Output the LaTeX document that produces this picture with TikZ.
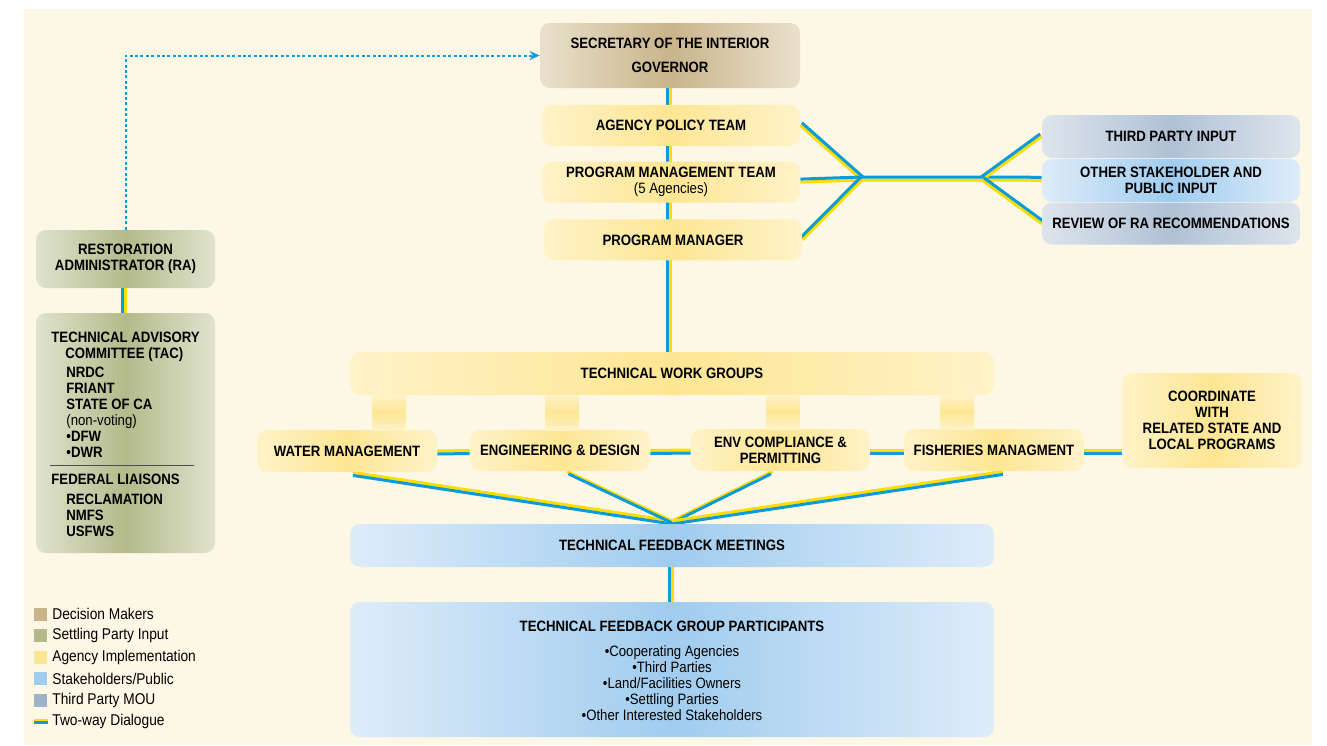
\documentclass[tikz,border=0pt]{standalone}
\usepackage{fontspec}
\setmainfont{Liberation Sans}[FakeStretch=0.88]
\usetikzlibrary{positioning,arrows.meta}
\definecolor{panel}{HTML}{FDF7E6}
\definecolor{tanL}{HTML}{E9E0CC}
\definecolor{tanM}{HTML}{C9B48B}
\definecolor{yelL}{HTML}{FEF2C8}
\definecolor{yelM}{HTML}{FDE693}
\definecolor{grnL}{HTML}{E0E3CE}
\definecolor{grnM}{HTML}{B3BA8A}
\definecolor{bluL}{HTML}{DEECF9}
\definecolor{bluM}{HTML}{A0CCEE}
\definecolor{mouL}{HTML}{DDE4EC}
\definecolor{mouM}{HTML}{B0C1D5}
\definecolor{mouK}{HTML}{9EB2C9}
\definecolor{twoblu}{HTML}{0B9BD8}
\definecolor{twoyel}{HTML}{FFDD00}
\newcommand\chartfont{\fontsize{7.5}{8}\selectfont}
\pgfdeclarelayer{back}
\pgfdeclarelayer{wires}
\pgfsetlayers{back,wires,main}

\begin{document}
\begin{tikzpicture}[x=0.5pt, y=-0.5pt,
    txt/.style={inner sep=0pt, font=\chartfont\bfseries},
    box/.style={txt, rounded corners=5pt, align=center},
    decision/.style={box, left color=tanL, right color=tanL, middle color=tanM},
    agency/.style={box, left color=yelL, right color=yelL, middle color=yelM},
    settling/.style={box, left color=grnL, right color=grnL, middle color=grnM},
    public/.style={box, left color=bluL, right color=bluL, middle color=bluM},
    mou/.style={box, left color=mouL, right color=mouL, middle color=mouM},
    stub/.style={top color=yelL, bottom color=yelL, middle color=yelM},
    twoway/.style={draw=twoyel, line width=1.5pt,
      postaction={draw=twoblu, line width=1.5pt, transform canvas={shift={(#1)}}}},
    legend/.style={inner sep=0pt, font=\fontsize{7.8}{8}\selectfont, anchor=west}
  ]
  \useasboundingbox (0,0) rectangle (1327,745);
  \begin{pgfonlayer}{back}
    \fill[panel] (24,9) rectangle (1312,745);
  \end{pgfonlayer}

  % decision makers and agencies
  \node[decision, minimum width=130pt, minimum height=32.5pt] (sec) at (670,55.5)
    {SECRETARY OF THE INTERIOR\\[4pt] GOVERNOR};
  \node[agency, minimum width=129pt, minimum height=20.5pt, below=8pt of sec, xshift=0.5pt] (apt)
    {AGENCY POLICY TEAM};
  \node[agency, minimum width=129pt, minimum height=20.5pt, below=7.5pt of apt] (pmt)
    {PROGRAM MANAGEMENT TEAM\\ {\mdseries(5 Agencies)}};
  \node[agency, minimum width=129pt, minimum height=20.5pt, below=8pt of pmt, xshift=1pt] (pm)
    {PROGRAM MANAGER};

  % third parties and public
  \node[mou, minimum width=129pt, minimum height=21.5pt] (third) at (1171,136.5)
    {THIRD PARTY INPUT};
  \node[public, minimum width=129pt, minimum height=21.5pt, below=0pt of third] (other)
    {OTHER STAKEHOLDER AND\\ PUBLIC INPUT};
  \node[mou, minimum width=129pt, minimum height=21pt, below=0pt of other] (review)
    {REVIEW OF RA RECOMMENDATIONS};

  % settling parties
  \node[settling, minimum width=89.5pt, minimum height=29pt] (ra) at (125.5,259)
    {RESTORATION\\ ADMINISTRATOR (RA)};
  \node[settling, minimum width=89.5pt, minimum height=120pt] (tac) at (125.5,433) {};
  \node[txt, anchor=north west, align=left] (tacmembers) at (51,332)
    {TECHNICAL ADVISORY\\
     \hspace*{7pt}COMMITTEE (TAC)\\[1.5pt]
     \hspace*{7.5pt}NRDC\\
     \hspace*{7.5pt}FRIANT\\
     \hspace*{7.5pt}STATE OF CA\\
     \hspace*{7.5pt}{\mdseries(non-voting)}\\
     \hspace*{7.5pt}•DFW\\
     \hspace*{7.5pt}•DWR};
  \draw[black!70, line width=0.5pt] (50,465) -- (194,465);
  \node[txt, anchor=north west, align=left] (liaisons) at (51,474)
    {FEDERAL LIAISONS\\[2pt]
     \hspace*{7.5pt}RECLAMATION\\
     \hspace*{7.5pt}NMFS\\
     \hspace*{7.5pt}USFWS};

  % work groups
  \node[agency, minimum width=322pt, minimum height=21.5pt] (twg) at (672,373.5)
    {TECHNICAL WORK GROUPS};
  \node[agency, minimum width=90pt, minimum height=21pt] (wm) at (347,451)
    {WATER MANAGEMENT};
  \node[agency, minimum width=90pt, minimum height=20.5pt] (ed) at (560,450.5)
    {ENGINEERING \& DESIGN};
  \node[agency, minimum width=89.5pt, minimum height=21pt] (env) at (780.5,450)
    {ENV COMPLIANCE \&\\ PERMITTING};
  \node[agency, minimum width=90pt, minimum height=21pt] (fish) at (994,450)
    {FISHERIES MANAGMENT};
  \node[agency, minimum width=90pt, minimum height=47.5pt] (coord) at (1212,420.5)
    {COORDINATE\\ WITH\\ RELATED STATE AND\\ LOCAL PROGRAMS};
  \fill[stub] (372,395) rectangle (406,430);
  \fill[stub] (545,395) rectangle (579,430);
  \fill[stub] (766,395) rectangle (800,429);
  \fill[stub] (940,395) rectangle (974,429);

  % feedback
  \node[public, minimum width=322pt, minimum height=21.5pt] (tfm) at (672,545.5)
    {TECHNICAL FEEDBACK MEETINGS};
  \node[public, minimum width=322pt, minimum height=67.5pt] (tfgp) at (672,669.5) {};
  \node[txt] (tfgptitle) at (672,626) {TECHNICAL FEEDBACK GROUP PARTICIPANTS};
  \node[txt, font=\chartfont, align=center, anchor=north] (tfgpitems) at (672,645.5)
    {•Cooperating Agencies\\ •Third Parties\\ •Land/Facilities Owners\\
     •Settling Parties\\ •Other Interested Stakeholders};

  % two-way dialogue
  \coordinate (hubL) at (862,180);
  \coordinate (hubR) at (982,180);
  \coordinate (hubB) at (672,521);
  \begin{pgfonlayer}{wires}
    \draw[twoway={-3,0}] (sec.south) -- (sec.south |- twg.north);
    \draw[twoway={-3,0}] (tfm.south) -- (tfgp.north);
    \draw[twoway={-3,0}] (ra.south) -- (tac.north);
    \draw[twoway={1.5,-2.5}] (apt.east) -- (hubL);
    \draw[twoway={0,-3}] (pmt.east) -- (hubL) -- (hubR) -- (other.west);
    \draw[twoway={-1.5,-2.5}] (pm.east) -- (hubL);
    \draw[twoway={-1.5,-2.5}] (hubR) -- (third.west);
    \draw[twoway={1.5,-2.5}] (hubR) -- (review.west);
    \draw[twoway={0,3}] (wm.east) -- (ed.west);
    \draw[twoway={0,3}] (ed.east) -- (env.west);
    \draw[twoway={0,3}] (env.east) -- (fish.west);
    \draw[twoway={0,3}] (fish.east) -- (coord.west |- fish.east);
    \draw[twoway={0,3}] ([xshift=3pt]wm.south) -- (hubB);
    \draw[twoway={1.5,2.5}] ([xshift=3.5pt]ed.south) -- (hubB);
    \draw[twoway={-1.5,2.5}] ([xshift=-4pt]env.south) -- (hubB);
    \draw[twoway={0,3}] ([xshift=4.5pt]fish.south) -- (hubB);
  \end{pgfonlayer}
  \draw[twoblu, line width=1pt, dash pattern=on 1.5pt off 1.2pt,
    -{Stealth[length=5pt, width=4.5pt]}] (ra.north) |- (sec.west);

  % legend
  \foreach \col/\txt [count=\i] in {tanM/Decision Makers, grnM/Settling Party Input,
      yelM/Agency Implementation, bluM/{Stakeholders/Public}, mouK/Third Party MOU} {
    \fill[\col] (34,{607.5+21.5*(\i-1)}) rectangle (47,{620.5+21.5*(\i-1)});
    \node[legend] (lg\i) at (52,{614+21.5*(\i-1)}) {\txt};
  }
  \coordinate (lgwayL) at (34,720);
  \coordinate (lgwayR) at (48,720);
  \draw[twoway={0,2.5}, line width=1.2pt] (lgwayL) -- (lgwayR);
  \node[legend] (lg6) at (52,721) {Two-way Dialogue};
\end{tikzpicture}
\end{document}
